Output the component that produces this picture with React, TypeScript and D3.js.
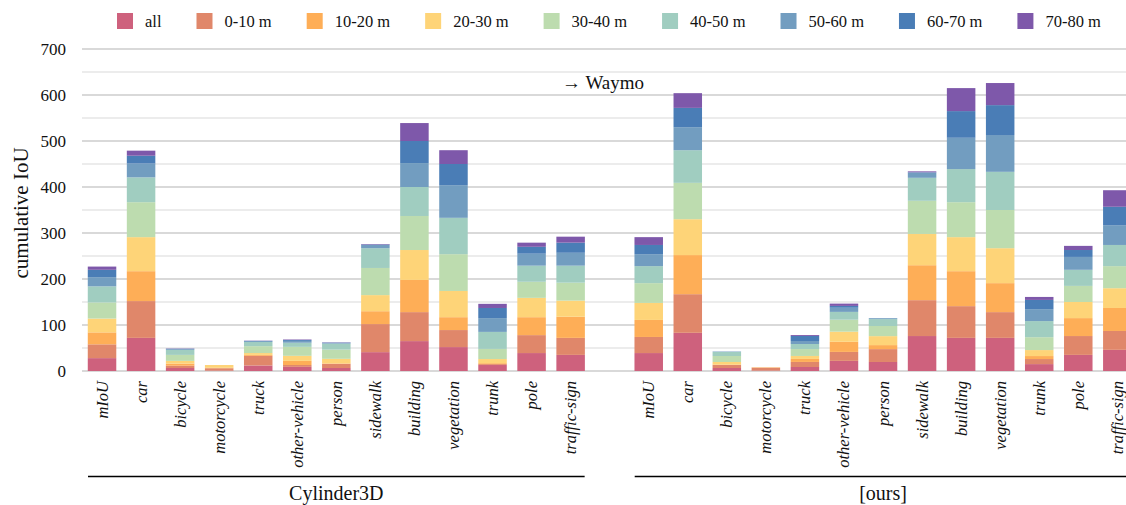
import { useMemo } from "react";
import { scaleBand, scaleLinear, stack, range } from "d3";

const WIDTH = 1126;
const HEIGHT = 505;
const PLOT = { left: 82.5, top: 49, bottom: 371, right: 1126 };
const STEP = 39.05;
const FONT = "Liberation Serif";

const categories = [
  "mIoU",
  "car",
  "bicycle",
  "motorcycle",
  "truck",
  "other-vehicle",
  "person",
  "sidewalk",
  "building",
  "vegetation",
  "trunk",
  "pole",
  "traffic-sign",
];
const models = ["Cylinder3D", "[ours]"];
const bins = ["all", "0-10 m", "10-20 m", "20-30 m", "30-40 m", "40-50 m", "50-60 m", "60-70 m", "70-80 m"];
const binColors = ["#ce617d", "#e0876a", "#feae57", "#fed478", "#bddcaf", "#a0cdc0", "#729dc0", "#4a7db6", "#7e58aa"];
const yTicks = [0, 100, 200, 300, 400, 500, 600, 700];

// one row per distance bin, one value per category
const cylinder3d = [
  [28, 72, 6.5, 1, 12, 9, 6.5, 41, 65, 52, 13, 39, 35],
  [30, 80, 5, 5, 21, 4, 9, 61, 63, 37, 2, 39, 37],
  [26, 65, 4.5, 1, 2, 9, 1, 28, 70, 28, 2, 39, 46],
  [30, 74, 6, 6, 4, 11, 10, 35, 65, 57, 9, 42, 35],
  [35, 76, 13, 0, 15, 19.5, 20, 59, 74, 80, 22, 35, 39],
  [35, 54, 11, 0, 9, 9, 13, 43, 63, 79, 37, 35, 37],
  [20, 30, 2, 0, 2, 4, 2, 7, 52, 71, 30, 26, 28],
  [16, 17, 0.5, 0, 0.5, 2, 0.5, 1, 48, 46, 22, 15, 22],
  [7, 11, 0.5, 0, 0.5, 1, 0.5, 1, 39, 30, 9, 9, 13],
];
const ours = [
  [39, 83, 6.5, 1, 8.7, 22, 19.6, 76, 72, 72, 15, 35, 46],
  [35, 84, 6.5, 6, 11, 19.5, 28, 78, 69, 56, 11, 41, 41],
  [37, 85, 1, 1, 6.5, 22, 8.7, 76, 76, 63, 6.5, 39, 50],
  [37, 78, 5.6, 0, 6.5, 22, 19.5, 68, 74, 76, 13, 35, 43],
  [43, 79, 13, 0, 15, 26, 22, 72, 76, 83, 28, 35, 48],
  [37, 71, 8.7, 0, 11, 17, 15, 50, 72, 83, 35, 35, 46],
  [26, 50, 1, 0, 6.5, 9, 2, 11, 68, 80, 26, 28, 43],
  [20, 42, 0, 0, 11, 4, 0, 1, 58, 65, 20, 15, 40],
  [17, 32, 0, 0, 2, 5, 0, 2, 50, 48, 6.5, 9, 36],
];

function measure(text: string, font: string) {
  const ctx = document.createElement("canvas").getContext("2d");
  if (!ctx) return text.length * 8;
  ctx.font = font;
  return ctx.measureText(text).width;
}

export default function App() {
  // slot keys: group A, one empty slot, group B
  const slots = useMemo(
    () => [
      ...categories.map((c) => `0|${c}`),
      "gap",
      ...categories.map((c) => `1|${c}`),
    ],
    []
  );

  const x = scaleBand<string>()
    .domain(slots)
    .range([PLOT.left, PLOT.left + STEP * slots.length])
    .paddingInner(0.27)
    .paddingOuter(0.135);
  const y = scaleLinear().domain([0, 700]).range([PLOT.bottom, PLOT.top]);

  const rows = useMemo(() => {
    const out: Record<string, number | string>[] = [];
    [cylinder3d, ours].forEach((vals, m) => {
      categories.forEach((c, ci) => {
        const r: Record<string, number | string> = { key: `${m}|${c}` };
        bins.forEach((b, bi) => (r[b] = vals[bi][ci]));
        out.push(r);
      });
    });
    return out;
  }, []);

  const series = stack<Record<string, number | string>>().keys(bins)(rows as any);

  const legendFont = `16.5px "${FONT}"`;
  let lx = 117;
  const legend = bins.map((b, i) => {
    const item = { b, x: lx, color: binColors[i] };
    lx += 16 + 12 + measure(b, legendFont) + 35;
    return item;
  });

  const gridLines = range(0, 701, 50);

  return (
    <svg
      width={WIDTH}
      height={HEIGHT}
      fontFamily={FONT}
      style={{ position: "absolute", left: 0, top: 0, background: "#fff" }}
    >
      {gridLines.map((v) => (
        <line
          key={v}
          x1={82}
          x2={WIDTH}
          y1={y(v)}
          y2={y(v)}
          stroke={v % 100 === 0 ? "#b3b3b3" : "#d9d9d9"}
          strokeWidth={1.2}
        />
      ))}
      {yTicks.map((v) => (
        <text key={v} x={66} y={y(v)} dy="0.35em" textAnchor="end" fontSize={17} fill="#111">
          {v}
        </text>
      ))}
      <text
        transform={`translate(21, 213) rotate(-90)`}
        textAnchor="middle"
        dominantBaseline="central"
        fontSize={21}
        fill="#111"
      >
        cumulative IoU
      </text>

      {series.map((s, i) => (
        <g key={bins[i]} fill={binColors[i]}>
          {s.map((d) => (
            <rect
              key={String(d.data.key)}
              x={x(String(d.data.key))}
              width={x.bandwidth()}
              y={y(d[1])}
              height={Math.max(0, y(d[0]) - y(d[1]))}
            />
          ))}
        </g>
      ))}

      {slots
        .filter((s) => s !== "gap")
        .map((s) => (
          <text
            key={s}
            transform={`translate(${(x(s) ?? 0) + x.bandwidth() / 2}, 381) rotate(-90)`}
            textAnchor="end"
            dominantBaseline="central"
            fontSize={16.5}
            fontStyle="italic"
            fill="#111"
          >
            {s.split("|")[1]}
          </text>
        ))}

      {models.map((m, mi) => {
        const first = x(`${mi}|${categories[0]}`) ?? 0;
        const last = (x(`${mi}|${categories[categories.length - 1]}`) ?? 0) + x.bandwidth();
        const x1 = first - (x.step() - x.bandwidth()) / 2 + 5.5;
        const x2 = last + (x.step() - x.bandwidth()) / 2 - 5.5;
        return (
          <g key={m}>
            <line x1={x1} x2={x2} y1={476.5} y2={476.5} stroke="#000" strokeWidth={1.4} />
            <text x={(x1 + x2) / 2} y={500} textAnchor="middle" fontSize={20} fill="#111">
              {m}
            </text>
          </g>
        );
      })}

      <text x={562} y={89} fontSize={19} fill="#111">
        → Waymo
      </text>

      {legend.map((l) => (
        <g key={l.b} transform={`translate(${l.x}, 13)`}>
          <rect width={16} height={16} fill={l.color} />
          <text x={28} y={8} dy="0.35em" fontSize={16.5} fill="#111">
            {l.b}
          </text>
        </g>
      ))}
    </svg>
  );
}
